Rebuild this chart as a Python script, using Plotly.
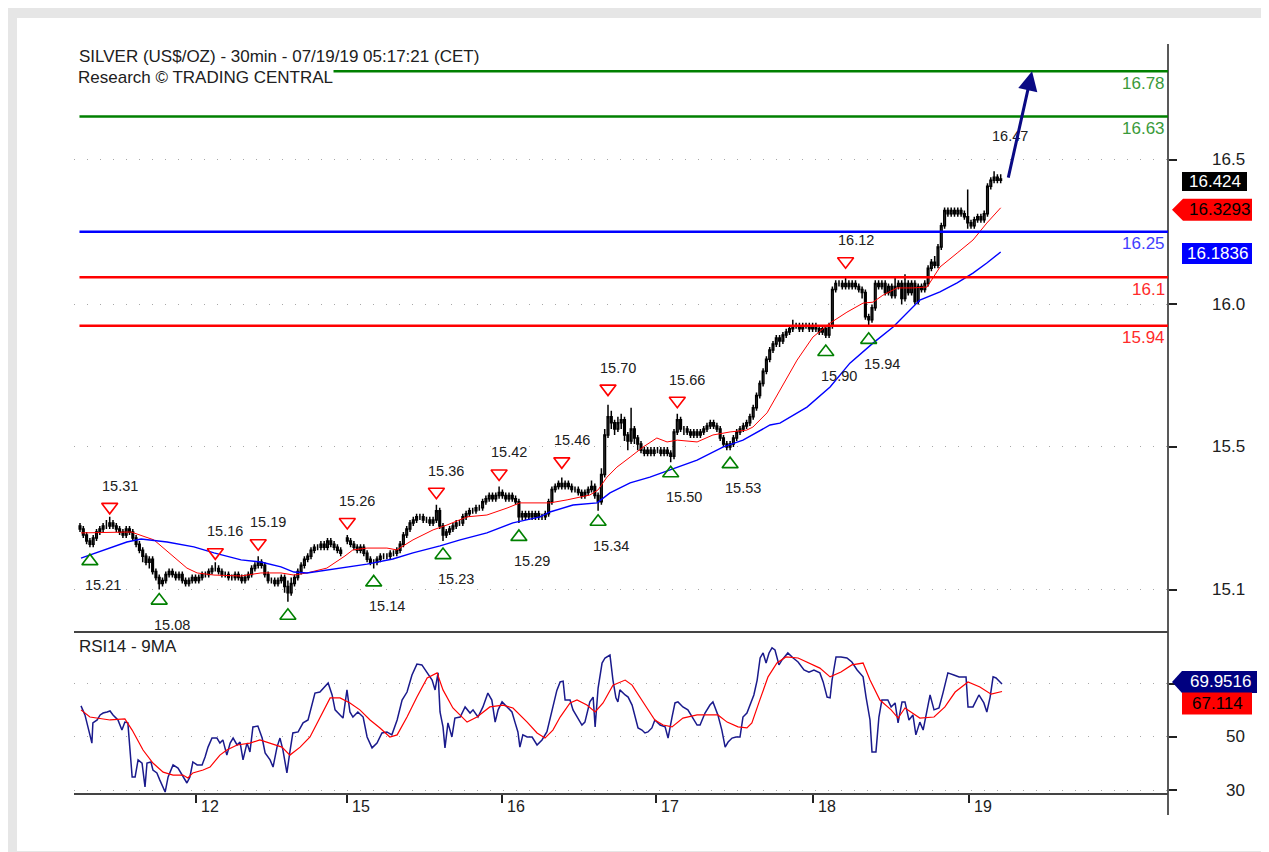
import plotly.graph_objects as go

# ---------------- data ----------------
# 30-min bars, index 0 = first visible bar; index 80 is the weekend gap
bar_index = list(range(0, 80)) + list(range(81, 280))

opens = [
    15.28, 15.27, 15.25, 15.23, 15.22, 15.24, 15.26, 15.27, 15.28, 15.28,
    15.29, 15.28, 15.27, 15.26, 15.25, 15.27, 15.26, 15.24, 15.22, 15.20,
    15.18, 15.16, 15.17, 15.13, 15.11, 15.09, 15.10, 15.12, 15.13, 15.12,
    15.11, 15.12, 15.10, 15.09, 15.10, 15.11, 15.10, 15.11, 15.12, 15.12,
    15.13, 15.14, 15.14, 15.13, 15.12, 15.12, 15.11, 15.11, 15.12, 15.11,
    15.10, 15.11, 15.12, 15.14, 15.15, 15.16, 15.15, 15.12, 15.10, 15.10,
    15.09, 15.10, 15.11, 15.08, 15.06, 15.09, 15.11, 15.13, 15.15, 15.17,
    15.18, 15.20, 15.21, 15.21, 15.22, 15.21, 15.23, 15.22, 15.21, 15.20,
    15.24, 15.23, 15.22, 15.21, 15.20, 15.21, 15.19, 15.17, 15.16, 15.16,
    15.17, 15.18, 15.18, 15.18, 15.19, 15.19, 15.20, 15.22, 15.25, 15.27,
    15.29, 15.30, 15.31, 15.31, 15.30, 15.30, 15.29, 15.30, 15.33, 15.28,
    15.25, 15.26, 15.27, 15.28, 15.29, 15.29, 15.31, 15.32, 15.33, 15.33,
    15.34, 15.34, 15.36, 15.37, 15.38, 15.37, 15.38, 15.39, 15.38, 15.37,
    15.38, 15.37, 15.36, 15.31, 15.32, 15.31, 15.32, 15.31, 15.32, 15.31,
    15.31, 15.32, 15.36, 15.40, 15.41, 15.42, 15.41, 15.42, 15.41, 15.40,
    15.40, 15.39, 15.38, 15.39, 15.40, 15.41, 15.38, 15.36, 15.45, 15.58,
    15.64, 15.62, 15.60, 15.62, 15.63, 15.58, 15.56, 15.60, 15.57, 15.55,
    15.53, 15.52, 15.53, 15.52, 15.53, 15.53, 15.52, 15.53, 15.52, 15.51,
    15.59, 15.63, 15.60, 15.60, 15.59, 15.58, 15.59, 15.58, 15.59, 15.60,
    15.61, 15.62, 15.61, 15.60, 15.57, 15.55, 15.54, 15.55, 15.57, 15.59,
    15.60, 15.61, 15.62, 15.64, 15.67, 15.71, 15.75, 15.79, 15.83, 15.86,
    15.88, 15.90, 15.89, 15.91, 15.92, 15.93, 15.94, 15.94, 15.93, 15.94,
    15.94, 15.93, 15.94, 15.93, 15.92, 15.93, 15.91, 15.94, 16.06, 16.08,
    16.08, 16.07, 16.08, 16.07, 16.08, 16.07, 16.06, 16.05, 15.97, 15.96,
    16.00, 16.08, 16.07, 16.08, 16.05, 16.07, 16.04, 16.07, 16.08, 16.03,
    16.08, 16.05, 16.08, 16.02, 16.07, 16.06, 16.08, 16.13, 16.15, 16.14,
    16.20, 16.27, 16.32, 16.31, 16.32, 16.31, 16.32, 16.31, 16.30, 16.28,
    16.27, 16.29, 16.30, 16.29, 16.31, 16.40, 16.42, 16.43, 16.42,
]
highs = [
    15.29, 15.28, 15.26, 15.24, 15.25, 15.27, 15.28, 15.29, 15.30, 15.31,
    15.30, 15.29, 15.28, 15.27, 15.28, 15.28, 15.27, 15.25, 15.23, 15.21,
    15.19, 15.18, 15.18, 15.14, 15.12, 15.11, 15.13, 15.14, 15.14, 15.13,
    15.13, 15.13, 15.11, 15.11, 15.12, 15.12, 15.12, 15.13, 15.13, 15.14,
    15.15, 15.16, 15.15, 15.14, 15.13, 15.13, 15.12, 15.13, 15.13, 15.12,
    15.12, 15.13, 15.15, 15.16, 15.18, 15.17, 15.16, 15.13, 15.11, 15.11,
    15.11, 15.12, 15.12, 15.10, 15.11, 15.12, 15.14, 15.16, 15.18, 15.19,
    15.21, 15.22, 15.22, 15.23, 15.23, 15.24, 15.24, 15.23, 15.22, 15.21,
    15.25, 15.24, 15.23, 15.22, 15.22, 15.22, 15.20, 15.18, 15.17, 15.18,
    15.19, 15.19, 15.19, 15.20, 15.20, 15.21, 15.23, 15.26, 15.28, 15.30,
    15.31, 15.32, 15.32, 15.32, 15.31, 15.31, 15.31, 15.35, 15.34, 15.29,
    15.27, 15.28, 15.29, 15.30, 15.30, 15.32, 15.33, 15.34, 15.34, 15.35,
    15.35, 15.37, 15.38, 15.39, 15.39, 15.39, 15.41, 15.40, 15.39, 15.39,
    15.39, 15.38, 15.37, 15.33, 15.33, 15.33, 15.33, 15.33, 15.33, 15.32,
    15.33, 15.37, 15.41, 15.42, 15.43, 15.44, 15.43, 15.43, 15.42, 15.41,
    15.41, 15.40, 15.40, 15.41, 15.43, 15.42, 15.39, 15.47, 15.60, 15.68,
    15.66, 15.63, 15.64, 15.65, 15.64, 15.59, 15.67, 15.61, 15.58, 15.56,
    15.54, 15.54, 15.54, 15.54, 15.54, 15.54, 15.54, 15.54, 15.53, 15.60,
    15.65, 15.64, 15.61, 15.61, 15.60, 15.60, 15.60, 15.60, 15.61, 15.62,
    15.63, 15.63, 15.62, 15.61, 15.58, 15.56, 15.56, 15.58, 15.60, 15.61,
    15.62, 15.63, 15.65, 15.68, 15.72, 15.76, 15.80, 15.84, 15.87, 15.89,
    15.91, 15.91, 15.92, 15.93, 15.94, 15.96, 15.95, 15.95, 15.95, 15.95,
    15.95, 15.95, 15.95, 15.94, 15.94, 15.94, 15.95, 16.07, 16.09, 16.09,
    16.09, 16.10, 16.09, 16.09, 16.09, 16.08, 16.07, 16.06, 15.98, 16.01,
    16.09, 16.09, 16.09, 16.09, 16.08, 16.08, 16.10, 16.09, 16.09, 16.11,
    16.09, 16.09, 16.09, 16.08, 16.08, 16.09, 16.14, 16.16, 16.17, 16.21,
    16.28, 16.33, 16.33, 16.33, 16.33, 16.33, 16.33, 16.32, 16.39, 16.29,
    16.30, 16.31, 16.31, 16.32, 16.41, 16.43, 16.45, 16.44, 16.44,
]
lows = [
    15.26, 15.24, 15.22, 15.21, 15.21, 15.23, 15.25, 15.26, 15.27, 15.27,
    15.27, 15.26, 15.25, 15.24, 15.24, 15.25, 15.23, 15.21, 15.19, 15.16,
    15.15, 15.14, 15.12, 15.10, 15.07, 15.08, 15.09, 15.11, 15.11, 15.10,
    15.10, 15.09, 15.08, 15.08, 15.09, 15.09, 15.09, 15.10, 15.11, 15.11,
    15.12, 15.13, 15.12, 15.11, 15.11, 15.10, 15.10, 15.10, 15.10, 15.09,
    15.09, 15.10, 15.11, 15.13, 15.14, 15.14, 15.11, 15.09, 15.09, 15.08,
    15.08, 15.09, 15.06, 15.03, 15.05, 15.08, 15.10, 15.12, 15.14, 15.16,
    15.17, 15.19, 15.20, 15.20, 15.20, 15.20, 15.21, 15.20, 15.19, 15.18,
    15.22, 15.21, 15.20, 15.19, 15.19, 15.18, 15.16, 15.15, 15.14, 15.15,
    15.16, 15.17, 15.17, 15.17, 15.18, 15.18, 15.19, 15.21, 15.24, 15.26,
    15.28, 15.29, 15.30, 15.29, 15.29, 15.28, 15.28, 15.29, 15.27, 15.23,
    15.24, 15.25, 15.26, 15.27, 15.28, 15.28, 15.30, 15.31, 15.32, 15.32,
    15.33, 15.33, 15.35, 15.36, 15.36, 15.36, 15.37, 15.37, 15.36, 15.36,
    15.36, 15.35, 15.29, 15.30, 15.30, 15.30, 15.30, 15.30, 15.30, 15.30,
    15.30, 15.31, 15.35, 15.39, 15.40, 15.40, 15.40, 15.40, 15.39, 15.39,
    15.38, 15.37, 15.37, 15.38, 15.39, 15.37, 15.33, 15.35, 15.44, 15.57,
    15.60, 15.58, 15.59, 15.60, 15.56, 15.53, 15.55, 15.55, 15.53, 15.52,
    15.51, 15.51, 15.51, 15.51, 15.52, 15.51, 15.51, 15.51, 15.49, 15.50,
    15.58, 15.59, 15.58, 15.58, 15.57, 15.57, 15.57, 15.57, 15.58, 15.59,
    15.60, 15.60, 15.59, 15.56, 15.54, 15.53, 15.53, 15.54, 15.56, 15.58,
    15.59, 15.60, 15.61, 15.63, 15.66, 15.70, 15.74, 15.78, 15.82, 15.85,
    15.87, 15.87, 15.88, 15.90, 15.91, 15.92, 15.93, 15.92, 15.92, 15.93,
    15.92, 15.92, 15.92, 15.91, 15.91, 15.90, 15.90, 15.93, 16.05, 16.07,
    16.06, 16.06, 16.06, 16.06, 16.06, 16.05, 16.03, 15.96, 15.94, 15.95,
    15.99, 16.06, 16.06, 16.04, 16.04, 16.03, 16.03, 16.06, 16.01, 16.02,
    16.04, 16.04, 16.01, 16.01, 16.05, 16.05, 16.07, 16.12, 16.13, 16.13,
    16.19, 16.26, 16.30, 16.30, 16.30, 16.30, 16.30, 16.29, 16.26, 16.26,
    16.26, 16.28, 16.28, 16.28, 16.30, 16.39, 16.41, 16.41, 16.41,
]
closes = [
    15.27, 15.25, 15.23, 15.22, 15.24, 15.26, 15.27, 15.28, 15.28, 15.29,
    15.28, 15.27, 15.26, 15.25, 15.27, 15.26, 15.24, 15.22, 15.20, 15.18,
    15.16, 15.17, 15.13, 15.11, 15.09, 15.10, 15.12, 15.13, 15.12, 15.11,
    15.12, 15.10, 15.09, 15.10, 15.11, 15.10, 15.11, 15.12, 15.12, 15.13,
    15.14, 15.14, 15.13, 15.12, 15.12, 15.11, 15.11, 15.12, 15.11, 15.10,
    15.11, 15.12, 15.14, 15.15, 15.16, 15.15, 15.12, 15.10, 15.10, 15.09,
    15.10, 15.11, 15.08, 15.06, 15.09, 15.11, 15.13, 15.15, 15.17, 15.18,
    15.20, 15.21, 15.21, 15.22, 15.21, 15.23, 15.22, 15.21, 15.20, 15.19,
    15.23, 15.22, 15.21, 15.20, 15.21, 15.19, 15.17, 15.16, 15.16, 15.17,
    15.18, 15.18, 15.18, 15.19, 15.19, 15.20, 15.22, 15.25, 15.27, 15.29,
    15.30, 15.31, 15.31, 15.30, 15.30, 15.29, 15.30, 15.33, 15.28, 15.25,
    15.26, 15.27, 15.28, 15.29, 15.29, 15.31, 15.32, 15.33, 15.33, 15.34,
    15.34, 15.36, 15.37, 15.38, 15.37, 15.38, 15.39, 15.38, 15.37, 15.38,
    15.37, 15.36, 15.31, 15.32, 15.31, 15.32, 15.31, 15.32, 15.31, 15.31,
    15.32, 15.36, 15.40, 15.41, 15.42, 15.41, 15.42, 15.41, 15.40, 15.40,
    15.39, 15.38, 15.39, 15.40, 15.41, 15.38, 15.36, 15.45, 15.58, 15.64,
    15.62, 15.60, 15.62, 15.63, 15.58, 15.56, 15.60, 15.57, 15.55, 15.53,
    15.52, 15.53, 15.52, 15.53, 15.53, 15.52, 15.53, 15.52, 15.51, 15.59,
    15.63, 15.60, 15.60, 15.59, 15.58, 15.59, 15.58, 15.59, 15.60, 15.61,
    15.62, 15.61, 15.60, 15.57, 15.55, 15.54, 15.55, 15.57, 15.59, 15.60,
    15.61, 15.62, 15.64, 15.67, 15.71, 15.75, 15.79, 15.83, 15.86, 15.88,
    15.90, 15.89, 15.91, 15.92, 15.93, 15.94, 15.94, 15.93, 15.94, 15.94,
    15.93, 15.94, 15.93, 15.92, 15.93, 15.91, 15.94, 16.06, 16.08, 16.08,
    16.07, 16.08, 16.07, 16.08, 16.07, 16.06, 16.05, 15.97, 15.96, 16.00,
    16.08, 16.07, 16.08, 16.05, 16.07, 16.04, 16.07, 16.08, 16.03, 16.08,
    16.05, 16.08, 16.02, 16.07, 16.06, 16.08, 16.13, 16.15, 16.14, 16.20,
    16.27, 16.32, 16.31, 16.32, 16.31, 16.32, 16.31, 16.30, 16.28, 16.27,
    16.29, 16.30, 16.29, 16.31, 16.40, 16.42, 16.43, 16.42, 16.424,
]

# moving averages on price (sampled along the drawn lines)
ma_fast_x = [0.3, 15.5, 22.4, 28.5, 32.4, 35.5, 40.6, 48.8, 54.8, 60.9,
             64.8, 68.8, 74.8, 80.3, 82.7, 87, 93, 96, 100.9, 107,
             111.2, 117.3, 123.3, 129.4, 133.3, 142.4, 147.6, 154.5, 157, 159.7,
             162.7, 166.7, 170.6, 174.8, 177.9, 181, 187, 191.8, 197, 202,
             203.9, 208.2, 212.1, 217.3, 222.1, 227.3, 232.4, 237.3, 240.3, 243.3,
             247.6, 252.4, 256.7, 260.6, 265.8, 270.6, 274.8, 279]
ma_fast = [15.257, 15.260, 15.234, 15.178, 15.141, 15.125, 15.118, 15.115, 15.125, 15.125,
           15.118, 15.125, 15.141, 15.181, 15.201, 15.207, 15.207, 15.201, 15.234, 15.267,
           15.283, 15.310, 15.316, 15.339, 15.356, 15.356, 15.366, 15.382, 15.399, 15.441,
           15.474, 15.507, 15.540, 15.570, 15.557, 15.563, 15.557, 15.580, 15.590, 15.596,
           15.606, 15.653, 15.728, 15.827, 15.903, 15.949, 15.985, 16.015, 16.018, 16.041,
           16.065, 16.065, 16.068, 16.134, 16.180, 16.223, 16.279, 16.3293]
ma_slow_x = [0.3, 7.3, 14.2, 18.5, 26.4, 34.5, 40.6, 48.8, 54.8, 60.9,
             64.8, 68.8, 78.8, 87, 94.8, 100.9, 109.1, 115.2, 123.3, 131.2,
             139.4, 142.4, 149.4, 156.7, 160.6, 166.7, 172.7, 178.8, 187, 194.8,
             200.9, 209.1, 212.1, 220.3, 227.3, 233.3, 240.3, 246.4, 250.6, 254.5,
             260.6, 265.8, 270.6, 274.8, 279]
ma_slow = [15.174, 15.201, 15.227, 15.237, 15.227, 15.211, 15.191, 15.168, 15.161, 15.145,
           15.128, 15.125, 15.141, 15.154, 15.171, 15.191, 15.214, 15.234, 15.257, 15.290,
           15.310, 15.326, 15.349, 15.356, 15.389, 15.422, 15.441, 15.464, 15.497, 15.540,
           15.563, 15.613, 15.619, 15.672, 15.738, 15.817, 15.883, 15.936, 15.982, 16.025,
           16.052, 16.082, 16.114, 16.147, 16.1836]

# RSI(14) and its 9-period MA
rsi_x = [0.3, 1.5, 3.0, 3.6, 3.9, 5.2, 6.1, 7.0, 8.2, 9.1,
         10.0, 11.5, 12.7, 13.6, 14.5, 15.8, 16.7, 17.6, 18.8, 19.7,
         20.3, 21.5, 22.1, 23.3, 24.2, 25.8, 26.7, 28.2, 29.7, 31.2,
         32.4, 33.3, 34.2, 35.5, 37.0, 37.9, 38.8, 40.0, 41.5, 42.4,
         43.3, 44.5, 45.5, 46.4, 47.6, 48.5, 49.4, 50.6, 51.5, 52.4,
         53.9, 55.2, 56.1, 57.6, 58.5, 59.7, 60.6, 61.5, 62.7, 63.6,
         64.5, 66.1, 67.6, 69.1, 70.3, 71.2, 72.7, 74.2, 75.2, 76.4,
         77.3, 78.8, 79.7, 80.9, 81.8, 82.7, 84.2, 85.8, 87.0, 88.5,
         90.0, 91.5, 93.0, 94.5, 96.1, 97.6, 99.1, 100.6, 102.1, 103.6,
         105.2, 106.7, 107.6, 108.5, 109.1, 110.0, 110.6, 111.5, 112.7, 113.6,
         115.2, 116.7, 118.2, 119.1, 120.6, 122.1, 123.6, 124.8, 125.8, 126.7,
         127.9, 129.4, 130.9, 131.8, 132.7, 133.3, 134.2, 135.5, 137.0, 138.5,
         140.0, 141.5, 143.0, 144.5, 145.5, 146.4, 147.0, 148.5, 149.4, 150.9,
         152.1, 153.0, 154.5, 155.5, 156.1, 157.0, 158.2, 159.1, 160.6, 161.5,
         162.4, 163.0, 163.6, 165.2, 166.1, 167.3, 168.2, 169.1, 170.3, 171.2,
         172.1, 173.3, 174.2, 175.8, 177.3, 178.2, 179.4, 180.3, 181.2, 182.7,
         184.2, 185.8, 187.0, 187.9, 189.4, 190.9, 191.8, 193.3, 194.5, 195.5,
         196.4, 197.6, 198.8, 200.0, 200.9, 202.1, 203.0, 204.2, 205.2, 206.1,
         207.0, 207.9, 208.8, 209.7, 210.6, 211.8, 212.7, 214.5, 216.1, 217.6,
         219.4, 220.9, 222.4, 224.2, 225.2, 226.4, 227.3, 227.9, 229.1, 230.6,
         232.4, 233.9, 235.5, 237.3, 238.2, 239.4, 240.0, 241.2, 242.1, 243.0,
         244.8, 245.8, 247.0, 247.9, 249.1, 250.0, 251.2, 252.4, 253.3, 254.5,
         255.5, 256.7, 257.6, 258.8, 260.3, 261.5, 263.0, 264.8, 266.4, 268.5,
         269.1, 270.6, 272.4, 273.9, 274.8, 275.8, 276.7, 277.6, 279.4]
rsi = [61.7, 58.3, 50.8, 47.7, 55.3, 56.4, 58.3, 59.0, 59.4, 59.8,
       58.3, 56.4, 52.6, 55.6, 55.3, 35.0, 35.0, 41.4, 40.2, 31.2,
       40.2, 40.6, 37.6, 36.5, 33.8, 29.3, 35.0, 39.5, 38.3, 35.0,
       32.7, 35.0, 40.6, 39.5, 39.5, 42.5, 46.2, 49.6, 49.6, 47.7,
       48.9, 43.2, 47.7, 49.6, 47.0, 48.1, 41.4, 47.7, 44.4, 53.8,
       54.1, 49.6, 44.0, 41.4, 38.7, 46.2, 49.6, 45.1, 36.5, 44.4,
       51.5, 51.9, 55.3, 56.4, 62.8, 66.5, 66.9, 68.8, 70.3, 65.8,
       60.2, 58.3, 57.1, 67.7, 59.4, 57.5, 59.4, 57.5, 50.0, 45.9,
       47.7, 51.5, 51.9, 50.8, 56.4, 63.9, 66.9, 73.3, 77.4, 77.1,
       74.1, 71.4, 67.7, 74.1, 59.4, 53.8, 45.9, 55.3, 50.0, 57.1,
       57.5, 61.3, 59.0, 60.2, 57.5, 61.3, 66.5, 63.9, 55.6, 60.2,
       63.2, 61.3, 59.4, 55.6, 51.9, 46.2, 50.8, 50.0, 50.0, 47.0,
       48.9, 52.0, 60.2, 67.5, 70.7, 71.0, 63.9, 63.9, 60.2, 57.1,
       54.5, 55.6, 63.2, 65.0, 53.8, 68.4, 77.8, 79.7, 80.8, 71.4,
       64.7, 63.2, 67.7, 65.8, 65.0, 62.0, 57.5, 53.4, 52.6, 51.5,
       51.9, 53.4, 56.4, 54.5, 53.8, 49.6, 57.5, 62.8, 63.2, 61.3,
       60.2, 57.1, 54.5, 54.5, 59.0, 62.0, 63.2, 58.3, 52.6, 46.2,
       48.1, 49.6, 50.0, 50.0, 57.5, 59.0, 62.0, 65.8, 71.4, 79.7,
       81.6, 77.8, 81.6, 83.5, 82.7, 77.1, 78.9, 81.6, 79.7, 78.2,
       75.2, 74.4, 75.2, 74.1, 70.7, 65.0, 64.7, 71.4, 80.1, 80.1,
       79.7, 78.2, 75.2, 72.6, 65.0, 56.4, 44.4, 44.4, 57.5, 63.9,
       63.9, 61.3, 62.8, 55.3, 63.2, 63.2, 56.4, 58.3, 50.8, 55.6,
       52.6, 60.9, 65.8, 60.2, 60.9, 66.5, 74.1, 73.3, 72.6, 72.6,
       61.3, 61.3, 65.8, 62.8, 59.4, 65.0, 72.6, 72.2, 69.9516]
rsi_ma_x = [0.3, 3.0, 9.1, 13.6, 15.8, 19.1, 22.1, 25.2, 28.2, 31.2,
            32.7, 34.2, 37.3, 39.4, 42.4, 44.5, 47.6, 51.5, 54.5, 57.6,
            61.2, 63.6, 66.7, 69.7, 72.7, 75.8, 78.8, 81.8, 84.8, 87.9,
            90.9, 93.9, 96.1, 99.1, 102.1, 105.2, 108.2, 110.0, 113.0, 117.3,
            120.3, 124.2, 128.2, 131.2, 135.5, 138.5, 140.9, 143.3, 145.5, 148.5,
            150.6, 153.6, 156.1, 158.5, 161.5, 165.2, 167.3, 169.7, 171.8, 174.2,
            176.7, 179.4, 182.7, 187.0, 190.0, 193.3, 196.1, 199.4, 202.1, 203.6,
            205.8, 208.5, 211.2, 213.9, 217.6, 220.9, 224.2, 227.3, 230.6, 233.9,
            237.3, 239.4, 242.4, 245.8, 247.9, 250.0, 254.5, 258.8, 262.1, 265.2,
            269.1, 272.7, 276.1, 279.4]
rsi_ma = [60.2, 57.5, 56.4, 56.8, 52.6, 45.1, 40.2, 36.8, 35.7, 35.7,
          34.6, 36.5, 37.6, 38.7, 43.2, 45.1, 47.0, 47.7, 48.9, 47.7,
          46.2, 43.2, 46.2, 50.0, 57.1, 64.7, 64.7, 62.8, 60.2, 56.4,
          53.4, 50.0, 50.8, 57.5, 65.0, 72.2, 74.1, 67.7, 60.9, 55.6,
          57.5, 61.3, 62.0, 60.9, 55.6, 51.5, 49.6, 52.6, 57.5, 62.8,
          63.9, 62.0, 59.4, 62.8, 69.5, 71.4, 69.5, 64.7, 60.9, 56.4,
          54.5, 53.8, 57.1, 58.3, 58.3, 58.3, 55.6, 53.8, 53.4, 55.3,
          63.2, 72.6, 77.8, 80.1, 79.7, 77.8, 75.9, 72.6, 74.4, 77.1,
          77.8, 71.4, 63.9, 60.2, 57.1, 60.9, 57.1, 57.5, 61.3, 66.9,
          70.7, 68.8, 66.1, 67.114]

# swing highs / lows flagged on the chart
hi_x = [9, 41, 54, 81, 108, 127, 146, 160, 181, 232]
hi_val = [15.31, 15.16, 15.19, 15.26, 15.36, 15.42, 15.46, 15.70, 15.66, 16.12]
lo_x = [3, 24, 63, 89, 110, 133, 157, 179, 197, 226, 239]
lo_val = [15.21, 15.08, 15.03, 15.14, 15.23, 15.29, 15.34, 15.50, 15.53, 15.90, 15.94]
lo_shown = [True, True, False, True, True, True, True, True, True, True, True]
target_x = 279
target_val = 16.47

# horizontal levels
levels = [16.78, 16.63, 16.25, 16.1, 15.94]
level_text = ["16.78", "16.63", "16.25", "16.1", "15.94"]

# axes
price_ticks = [16.487, 16.012, 15.541, 15.069]
price_tick_text = ["16.5", "16.0", "15.5", "15.1"]
rsi_ticks = [70, 50, 30]
rsi_tick_text = ["", "50", "30"]
day_ticks = [35.0, 80.9, 127.9, 174.5, 222.1, 269.4]
day_labels = ["12", "15", "16", "17", "18", "19"]

assert len(opens) == len(highs) == len(lows) == len(closes) == len(bar_index)
assert len(rsi_x) == len(rsi) and len(rsi_ma_x) == len(rsi_ma)
assert len(ma_fast_x) == len(ma_fast) and len(ma_slow_x) == len(ma_slow)

# ---------------- styling ----------------
FONT = "Liberation Sans, Arial, Helvetica, sans-serif"
TXT = "#202020"
GREEN, BLUE, RED, NAVY = "#008000", "#0000ff", "#ff0000", "#000080"
level_line_color = [GREEN, GREEN, BLUE, RED, RED]
level_text_color = ["#3a9a3a", "#3a9a3a", "#4040ff", "#ff2a2a", "#ff2a2a"]
PX_PER_UNIT = 303.2          # main panel pixels per 1.0 of price
TRI_HI = 10 / PX_PER_UNIT
TRI_LO = 14 / PX_PER_UNIT
PRICE_RANGE = [14.9302, 16.8695]
RSI_RANGE = [28.57, 89.47]
X_RANGE = [-1.82, 329.7]
SPLIT = 0.216

fig = go.Figure()

fig.add_trace(go.Candlestick(
    x=bar_index, open=opens, high=highs, low=lows, close=closes,
    increasing=dict(line=dict(color="black", width=1.5), fillcolor="white"),
    decreasing=dict(line=dict(color="black", width=1.5), fillcolor="black"),
    whiskerwidth=0, hoverinfo="skip", xaxis="x", yaxis="y"))
fig.add_trace(go.Scatter(x=ma_fast_x, y=ma_fast, mode="lines",
                         line=dict(color=RED, width=1), hoverinfo="skip"))
fig.add_trace(go.Scatter(x=ma_slow_x, y=ma_slow, mode="lines",
                         line=dict(color=BLUE, width=1.4), hoverinfo="skip"))
fig.add_trace(go.Scatter(
    x=hi_x, y=[v + TRI_HI for v in hi_val], mode="markers", hoverinfo="skip",
    marker=dict(symbol="triangle-down-open", size=14, color=RED, line=dict(width=1.6, color=RED))))
fig.add_trace(go.Scatter(
    x=lo_x, y=[v - TRI_LO for v in lo_val], mode="markers", hoverinfo="skip",
    marker=dict(symbol="triangle-up-open", size=14, color=GREEN, line=dict(width=1.6, color=GREEN))))
fig.add_trace(go.Scatter(x=rsi_x, y=rsi, mode="lines", xaxis="x2", yaxis="y2",
                         line=dict(color="#1a1a8c", width=1.5), hoverinfo="skip"))
fig.add_trace(go.Scatter(x=rsi_ma_x, y=rsi_ma, mode="lines", xaxis="x2", yaxis="y2",
                         line=dict(color=RED, width=1.2), hoverinfo="skip"))

shapes = []
# outer light-grey frame
for (x0, x1, y0, y1) in [(-0.0612, -0.0521, -0.0773, 1.048),
                         (-0.0612, 1.0923, 1.0347, 1.048),
                         (-0.0612, 1.0923, -0.0773, -0.076)]:
    shapes.append(dict(type="rect", xref="paper", yref="paper", x0=x0, x1=x1, y0=y0, y1=y1,
                       fillcolor="#e6e6e6", line=dict(width=0), layer="below"))
# panel frame lines
shapes.append(dict(type="line", xref="paper", yref="paper", x0=1, x1=1, y0=-0.028, y1=1.0,
                   line=dict(color="#222222", width=1.5)))
shapes.append(dict(type="line", xref="paper", yref="paper", x0=0, x1=1, y0=SPLIT, y1=SPLIT,
                   line=dict(color="#444444", width=2)))
shapes.append(dict(type="line", xref="paper", yref="paper", x0=0, x1=1, y0=0, y1=0,
                   line=dict(color="#444444", width=2)))
# horizontal levels
for lv, col in zip(levels, level_line_color):
    shapes.append(dict(type="line", xref="x domain", yref="y", x0=0.005, x1=1, y0=lv, y1=lv,
                       line=dict(color=col, width=2.5), layer="above"))


def value_box(yref, yval, x0, x1, y0, y1, color, tip=False):
    if tip:
        path = f"M 4 {(y0 + y1) / 2} L {x0} {y1} L {x1} {y1} L {x1} {y0} L {x0} {y0} Z"
        return dict(type="path", xref="paper", yref=yref, xsizemode="pixel", ysizemode="pixel",
                    xanchor=1, yanchor=yval, path=path, fillcolor=color, line=dict(width=0))
    return dict(type="rect", xref="paper", yref=yref, xsizemode="pixel", ysizemode="pixel",
                xanchor=1, yanchor=yval, x0=x0, x1=x1, y0=y0, y1=y1,
                fillcolor=color, line=dict(width=0))


last_close = closes[-1]
shapes.append(value_box("y", last_close, 14, 79, -12, 7, "#000000"))
shapes.append(value_box("y", ma_fast[-1], 15, 84, -13, 9, RED, tip=True))
shapes.append(value_box("y", ma_slow[-1], 14, 84, -12, 9, BLUE))
shapes.append(value_box("y2", rsi[-1], 14, 89, -9, 13, NAVY, tip=True))
shapes.append(value_box("y2", rsi_ma[-1], 14, 84, -23, -1, RED))

ann = []
ann.append(dict(text="SILVER (US$/OZ) - 30min - 07/19/19 05:17:21 (CET)", xref="paper", yref="paper",
                x=0.003, y=0.9827, xanchor="left", yanchor="middle", showarrow=False,
                font=dict(size=17, color=TXT)))
ann.append(dict(text="Research © TRADING CENTRAL", xref="paper", yref="paper",
                x=0.003, y=0.956, xanchor="left", yanchor="middle", showarrow=False,
                bgcolor="white", borderpad=0, font=dict(size=17, color=TXT)))
ann.append(dict(text="RSI14 - 9MA", xref="paper", yref="paper", x=0.003, y=0.197,
                xanchor="left", yanchor="middle", showarrow=False, font=dict(size=17, color=TXT)))
# level labels
for lv, t, col in zip(levels, level_text, level_text_color):
    ann.append(dict(text=t, xref="paper", yref="y", x=1, y=lv, xanchor="right", xshift=-1,
                    yanchor="middle", yshift=-12, showarrow=False, font=dict(size=17, color=col)))
# swing labels
for x, v in zip(hi_x, hi_val):
    ann.append(dict(text=f"{v:.2f}", x=x, y=v, xref="x", yref="y", xshift=10, yshift=31,
                    xanchor="center", showarrow=False, font=dict(size=14.5, color=TXT)))
for x, v, shown in zip(lo_x, lo_val, lo_shown):
    if shown:
        ann.append(dict(text=f"{v:.2f}", x=x, y=v, xref="x", yref="y", xshift=13, yshift=-38,
                        xanchor="center", showarrow=False, font=dict(size=14.5, color=TXT)))
ann.append(dict(text=f"{target_val:.2f}", x=target_x, y=target_val, xref="x", yref="y",
                xshift=9, yshift=29, xanchor="center", showarrow=False,
                font=dict(size=14.5, color=TXT)))
# projection arrow
ann.append(dict(text="", x=288.5, y=levels[0], ax=281.2, ay=last_close, xref="x", yref="y",
                axref="x", ayref="y", showarrow=True, arrowhead=2, arrowsize=1.3,
                arrowwidth=3, arrowcolor="#0a0a84"))
# right axis labels
for v, t in zip(price_ticks, price_tick_text):
    ann.append(dict(text=t, xref="paper", yref="y", x=1, y=v, xanchor="right", xshift=79,
                    yanchor="middle", showarrow=False, font=dict(size=17, color=TXT)))
for v, t in zip(rsi_ticks, rsi_tick_text):
    if t:
        ann.append(dict(text=t, xref="paper", yref="y2", x=1, y=v, xanchor="right", xshift=79,
                        yanchor="middle", showarrow=False, font=dict(size=17, color=TXT)))
# value boxes text
ann.append(dict(text=f"{last_close:.3f}", xref="paper", yref="y", x=1, y=last_close, xshift=47,
                yshift=-2.5, xanchor="center", yanchor="middle", showarrow=False,
                font=dict(size=17, color="white")))
ann.append(dict(text=f"{ma_fast[-1]:.4f}", xref="paper", yref="y", x=1, y=ma_fast[-1], xshift=51,
                yshift=-2, xanchor="center", yanchor="middle", showarrow=False,
                font=dict(size=17, color="black")))
ann.append(dict(text=f"{ma_slow[-1]:.4f}", xref="paper", yref="y", x=1, y=ma_slow[-1], xshift=49,
                yshift=-1.5, xanchor="center", yanchor="middle", showarrow=False,
                font=dict(size=17, color="white")))
ann.append(dict(text=f"{rsi[-1]:.4f}", xref="paper", yref="y2", x=1, y=rsi[-1], xshift=52,
                yshift=2, xanchor="center", yanchor="middle", showarrow=False,
                font=dict(size=17, color="white")))
ann.append(dict(text=f"{rsi_ma[-1]:.3f}", xref="paper", yref="y2", x=1, y=rsi_ma[-1], xshift=49,
                yshift=-12, xanchor="center", yanchor="middle", showarrow=False,
                font=dict(size=17, color="black")))
# day labels
for d, t in zip(day_ticks, day_labels):
    ann.append(dict(text=t, xref="x2", yref="paper", x=d, y=0, xanchor="left", xshift=3,
                    yanchor="middle", yshift=-12, showarrow=False, font=dict(size=16, color=TXT)))

grid = dict(showgrid=True, gridcolor="#a8a8a8", gridwidth=1, griddash="1px,12px")

# the page adds an 8px body margin, so the figure is 8px smaller than the window
fig.update_layout(
    width=1261, height=844,
    margin=dict(l=66, r=101, t=36, b=58),
    paper_bgcolor="white", plot_bgcolor="white",
    showlegend=False, hovermode=False,
    font=dict(family=FONT, color=TXT),
    xaxis=dict(domain=[0, 1], anchor="y", range=X_RANGE, showgrid=False, zeroline=False,
               showticklabels=False, ticks="", showline=False, rangeslider=dict(visible=False)),
    xaxis2=dict(domain=[0, 1], anchor="y2", range=X_RANGE, showgrid=False, zeroline=False,
                tickvals=day_ticks, showticklabels=False, ticks="outside", ticklen=8,
                tickwidth=1.5, tickcolor="#222222", showline=False),
    yaxis=dict(domain=[SPLIT, 1], anchor="x", side="right", range=PRICE_RANGE,
               tickvals=price_ticks, showticklabels=False, ticks="outside", ticklen=8,
               tickwidth=1.5, tickcolor="#222222", zeroline=False, showline=False, **grid),
    yaxis2=dict(domain=[0, SPLIT], anchor="x2", side="right", range=RSI_RANGE,
                tickvals=rsi_ticks, showticklabels=False, ticks="outside", ticklen=8,
                tickwidth=1.5, tickcolor="#222222", zeroline=False, showline=False, **grid),
    shapes=shapes,
    annotations=ann,
)

fig.write_html("out.html")
